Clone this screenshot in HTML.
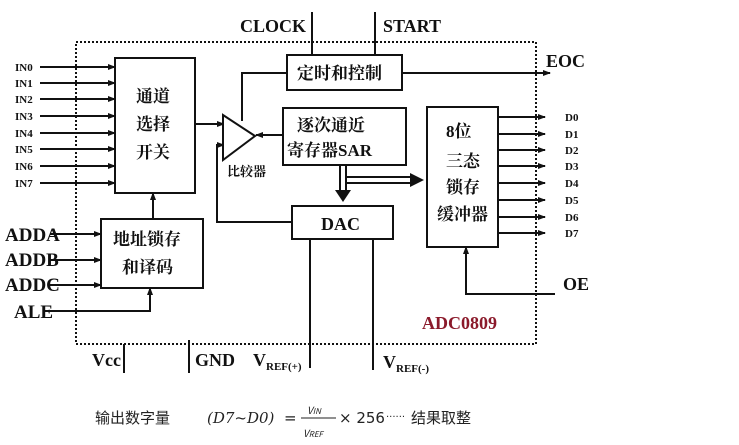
<!DOCTYPE html>
<html><head><meta charset="utf-8"><style>
html,body{margin:0;padding:0;background:#fff;}
svg{display:block}
.b{font-family:"Liberation Serif","Noto Serif CJK SC",serif;font-weight:bold;fill:#111}
.c{font-family:"Liberation Serif","Noto Serif CJK SC",serif;font-weight:bold;fill:#111}
</style></head><body>
<svg width="739" height="445" viewBox="0 0 739 445" xmlns="http://www.w3.org/2000/svg">
<defs>
<marker id="a" markerWidth="8" markerHeight="8" refX="7" refY="4" orient="auto" markerUnits="userSpaceOnUse"><path d="M0,1 L8,4 L0,7 Z" fill="#111"/></marker>
</defs>
<g stroke="#111" stroke-width="2" fill="none">
<rect x="76" y="42" width="460" height="302" stroke-dasharray="2,2" stroke-width="2"/>
<rect x="115" y="58" width="80" height="135" fill="#fff"/>
<rect x="287" y="55" width="115" height="35" fill="#fff"/>
<rect x="283" y="108" width="123" height="57" fill="#fff"/>
<rect x="292" y="206" width="101" height="33" fill="#fff"/>
<rect x="427" y="107" width="71" height="140" fill="#fff"/>
<rect x="101" y="219" width="102" height="69" fill="#fff"/>
<g marker-end="url(#a)">
<line x1="40" y1="67" x2="115" y2="67"/><line x1="40" y1="83" x2="115" y2="83"/>
<line x1="40" y1="99" x2="115" y2="99"/><line x1="40" y1="116" x2="115" y2="116"/>
<line x1="40" y1="133" x2="115" y2="133"/><line x1="40" y1="149" x2="115" y2="149"/>
<line x1="40" y1="166" x2="115" y2="166"/><line x1="40" y1="183" x2="115" y2="183"/>
<line x1="195" y1="124" x2="224" y2="124"/>
<line x1="283" y1="135" x2="256" y2="135"/>
<polyline points="292,222 217,222 217,145 224,145"/>
<line x1="402" y1="73" x2="550" y2="73"/>
<line x1="50" y1="234" x2="101" y2="234"/><line x1="50" y1="260" x2="101" y2="260"/>
<line x1="50" y1="285" x2="101" y2="285"/>
<polyline points="45,311 150,311 150,288"/>
<line x1="153" y1="219" x2="153" y2="193"/>
<polyline points="555,294 466,294 466,247"/>
<line x1="498" y1="117" x2="545" y2="117"/><line x1="498" y1="134" x2="545" y2="134"/>
<line x1="498" y1="150" x2="545" y2="150"/><line x1="498" y1="166" x2="545" y2="166"/>
<line x1="498" y1="183" x2="545" y2="183"/><line x1="498" y1="200" x2="545" y2="200"/>
<line x1="498" y1="217" x2="545" y2="217"/><line x1="498" y1="233" x2="545" y2="233"/>
</g>
<polygon points="223,115 223,160 255,136" fill="#fff"/>
<polyline points="242,121 242,73 287,73"/>
<line x1="312" y1="12" x2="312" y2="55"/>
<line x1="375" y1="12" x2="375" y2="55"/>
<line x1="340" y1="165" x2="340" y2="192"/><line x1="346" y1="165" x2="346" y2="192"/>
<line x1="346" y1="177" x2="412" y2="177"/><line x1="346" y1="183" x2="412" y2="183"/>
<line x1="124" y1="344" x2="124" y2="373"/>
<line x1="189" y1="340" x2="189" y2="373"/>
<line x1="310" y1="239" x2="310" y2="368"/>
<line x1="373" y1="239" x2="373" y2="370"/>
</g>
<path d="M335,190 L351,190 L343,202 Z" fill="#111"/>
<path d="M410,173 L424,180 L410,187 Z" fill="#111"/>
<g class="b" font-size="11">
<text x="15" y="71">IN0</text><text x="15" y="87">IN1</text><text x="15" y="103">IN2</text>
<text x="15" y="120">IN3</text><text x="15" y="137">IN4</text><text x="15" y="153">IN5</text>
<text x="15" y="170">IN6</text><text x="15" y="187">IN7</text>
<text x="565" y="121">D0</text><text x="565" y="138">D1</text><text x="565" y="154">D2</text>
<text x="565" y="170">D3</text><text x="565" y="187">D4</text><text x="565" y="204">D5</text>
<text x="565" y="221">D6</text><text x="565" y="237">D7</text>
</g>
<g class="b" font-size="18">
<text x="240" y="32">CLOCK</text><text x="383" y="32">START</text>
<text x="546" y="67">EOC</text>
<text x="5" y="241" font-size="19">ADDA</text><text x="5" y="266" font-size="19">ADDB</text><text x="5" y="291" font-size="19">ADDC</text>
<text x="14" y="318" font-size="19">ALE</text>
<text x="563" y="290">OE</text>
<text x="321" y="230">DAC</text>
<text x="422" y="329" style="fill:#8b1a2b">ADC0809</text>
<text x="92" y="366">Vcc</text><text x="195" y="366">GND</text>
<text x="253" y="366">V<tspan font-size="11" dy="4">REF(+)</tspan></text>
<text x="383" y="368">V<tspan font-size="11" dy="4">REF(-)</tspan></text>
</g>
<g class="c" font-size="17">
<text x="136" y="102">通道</text><text x="136" y="130">选择</text><text x="136" y="158">开关</text>
<text x="297" y="79">定时和控制</text>
<text x="297" y="131">逐次通近</text>
<text x="287" y="156">寄存器SAR</text>
<text x="446" y="137">8位</text>
<text x="446" y="167">三态</text><text x="446" y="193">锁存</text><text x="437" y="220">缓冲器</text>
<text x="113" y="245">地址锁存</text><text x="122" y="273">和译码</text>
</g>
<text class="c" x="227" y="176" font-size="13">比较器</text>
<g font-family="'Noto Sans CJK SC','DejaVu Sans',sans-serif" fill="#222" font-size="15">
<text x="95" y="423">输出数字量</text>
<text x="207" y="423" font-family="'DejaVu Serif',serif" font-style="italic">(D7~D0)</text>
<text x="284" y="423" font-family="'DejaVu Sans',sans-serif">=</text>
<text x="307" y="414" font-size="10" font-style="italic">V<tspan font-size="8">IN</tspan></text>
<line x1="301" y1="418" x2="336" y2="418" stroke="#222" stroke-width="1"/>
<text x="303" y="437" font-size="10" font-style="italic">V<tspan font-size="8">REF</tspan></text>
<text x="339" y="423" font-family="'DejaVu Sans',sans-serif">× 256</text>
<text x="386" y="420" font-size="10" font-family="'DejaVu Sans',sans-serif">······</text>
<text x="411" y="423">结果取整</text>
</g>
</svg>
</body></html>
